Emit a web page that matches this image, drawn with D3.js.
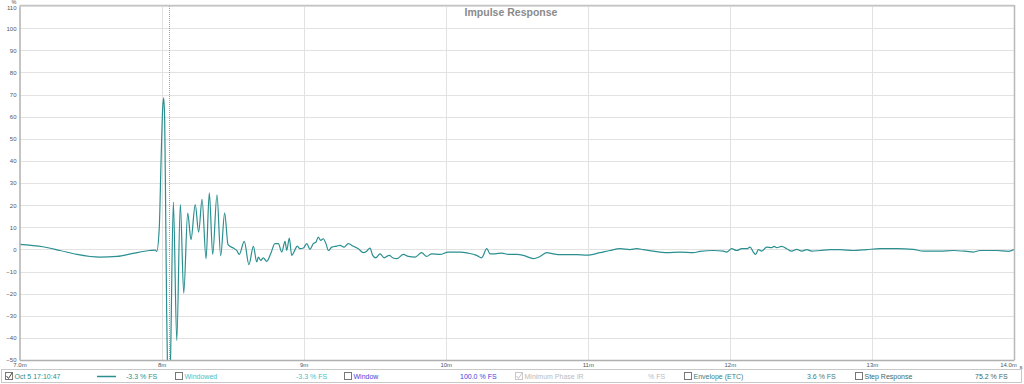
<!DOCTYPE html>
<html>
<head>
<meta charset="utf-8">
<script src="https://cdn.jsdelivr.net/npm/d3@7"></script>
<style>
  body { margin: 0; background: #fff; }
  svg { display: block; font-family: "Liberation Sans", Arial, sans-serif; }
</style>
</head>
<body>
<svg></svg>
<script>
// time in ms, amplitude in % FS
var times = [7.0, 7.165, 7.285, 7.405, 7.567, 7.686, 7.799, 7.919, 7.954, 7.966,
  7.984, 7.996, 8.008, 8.015, 8.022, 8.029, 8.036, 8.042, 8.049, 8.061,
  8.083, 8.107, 8.132, 8.156, 8.184, 8.207, 8.237, 8.261, 8.285, 8.313,
  8.336, 8.360, 8.390, 8.416, 8.444, 8.468, 8.505, 8.529, 8.547, 8.582,
  8.615, 8.646, 8.670, 8.681, 8.698, 8.716, 8.740, 8.768, 8.798, 8.822,
  8.846, 8.869, 8.881, 8.899, 8.916, 8.934, 8.955, 8.974, 8.998, 9.022,
  9.045, 9.068, 9.087, 9.103, 9.120, 9.138, 9.157, 9.174, 9.198, 9.233,
  9.256, 9.284, 9.314, 9.350, 9.385, 9.420, 9.444, 9.467, 9.486, 9.507,
  9.538, 9.566, 9.603, 9.627, 9.655, 9.702, 9.737, 9.784, 9.831, 9.866,
  9.901, 9.960, 10.018, 10.101, 10.159, 10.218, 10.253, 10.289, 10.312, 10.347,
  10.394, 10.441, 10.500, 10.546, 10.617, 10.664, 10.711, 10.757, 10.804, 10.922,
  10.992, 11.086, 11.156, 11.227, 11.297, 11.344, 11.391, 11.461, 11.556, 11.649,
  11.743, 11.790, 11.884, 11.954, 11.978, 12.013, 12.048, 12.083, 12.119, 12.142,
  12.165, 12.182, 12.200, 12.224, 12.259, 12.295, 12.311, 12.330, 12.365, 12.400,
  12.435, 12.471, 12.506, 12.541, 12.576, 12.635, 12.705, 12.775, 12.869, 12.963,
  13.057, 13.174, 13.291, 13.362, 13.479, 13.573, 13.667, 13.714, 13.761, 13.878,
  13.960, 14.0];
var impulse = [2.3, 1.2, -0.5, -2.3, -3.5, -3.2, -1.8, -0.5, -0.3, -0.9,
  10, 39, 64, 68.5, 58, 16, -29, -55, -65, -55,
  21.4, -41.2, 20.4, -19.8, 16.4, 4.4, 20.2, 7.8, 22.6, -4.2,
  25.5, -2.3, 24.7, -2.9, 16.4, 2.1, 0.6, -0.5, -2.3, 3.6,
  -6.9, 1.4, -5.7, -3.5, -5.0, -3.8, -5.4, -2.0, 2.6, 2.6,
  -1.2, 3.6, -0.5, 5.1, -2.7, -0.9, 1.5, 0.3, 0.6, 2.6,
  0.0, 2.6, 3.3, 5.6, 4.1, 4.8, 2.6, -0.5, 1.0, 1.5,
  1.8, 1.0, 2.6, 1.4, 0.3, -1.5, -0.8, 0.6, -2.7, -3.8,
  -2.0, -3.8, -2.7, -3.8, -4.2, -2.3, -3.2, -3.5, -1.5, -3.2,
  -2.0, -2.3, -1.2, -1.2, -1.7, -2.7, -3.8, 0.3, -2.0, -2.0,
  -1.7, -2.3, -2.3, -2.7, -4.2, -3.2, -1.5, -2.0, -2.4, -2.4,
  -2.6, -1.5, -0.5, 0.3, -0.1, 0.3, -0.1, -0.8, -1.5, -1.2,
  -1.5, -0.9, -0.5, -0.8, -1.2, 0.3, -0.5, 0.3, 0.3, 1.0,
  -1.2, -2.3, -0.1, -0.8, 1.0, 0.8, 1.4, 0.8, 1.4, 0.3,
  -0.8, 0.0, -0.8, -0.1, -0.8, -0.5, -0.1, -0.1, -0.5, -0.1,
  0.3, 0.3, 0.0, -0.8, -0.8, -0.5, -0.9, -1.2, -0.5, -0.5,
  -0.9, -0.1];

var xTicks = [7, 8, 9, 10, 11, 12, 13, 14];
var xTickLabels = ["7.0m", "8m", "9m", "10m", "11m", "12m", "13m", "14.0m"];
var yTicks = [-50, -40, -30, -20, -10, 0, 10, 20, 30, 40, 50, 60, 70, 80, 90, 100, 110];
var windowStart = 8.052;

var legendItems = [
  {box: "checked", label: "Oct 5 17:10:47", value: "-3.3 % FS", color: "#2b8f90", line: true},
  {box: "empty", label: "Windowed", value: "-3.3 % FS", color: "#4cc0c0"},
  {box: "empty", label: "Window", value: "100.0 % FS", color: "#4444d8"},
  {box: "disabled", label: "Minimum Phase IR", value: "% FS", color: "#bbbbbb"},
  {box: "empty", label: "Envelope (ETC)", value: "3.6 % FS", color: "#3a7f80"},
  {box: "empty", label: "Step Response", value: "75.2 % FS", color: "#3a6a6a"}
];
var legendBoxX = [5, 175, 344, 515, 684, 855];
var legendValueX = [126, 296, 460, 648, 807, 975];

var width = 1024, height = 384;
var plotL = 19.5, plotR = 1014, plotT = 6, plotB = 360;

var svg = d3.select("svg").attr("width", width).attr("height", height);

var x = d3.scaleLinear().domain([7, 14]).range([plotL, plotR]);
var y = d3.scaleLinear().domain([-50, 110]).range([plotB, plotT]);

// grid
svg.append("g").selectAll("line").data(yTicks.slice(1)).enter().append("line")
  .attr("x1", plotL).attr("x2", plotR)
  .attr("y1", function(d){ return Math.round(y(d)) + 0.5; })
  .attr("y2", function(d){ return Math.round(y(d)) + 0.5; })
  .attr("stroke", "#e2e2e2");
svg.append("g").selectAll("line").data(xTicks.slice(1, -1)).enter().append("line")
  .attr("x1", function(d){ return Math.round(x(d)) + 0.5; })
  .attr("x2", function(d){ return Math.round(x(d)) + 0.5; })
  .attr("y1", plotT).attr("y2", plotB)
  .attr("stroke", "#e2e2e2");

// title
svg.append("text").attr("x", 511).attr("y", 16)
  .attr("text-anchor", "middle").attr("font-size", 10.5).attr("font-weight", "bold")
  .attr("fill", "#8a8a8a").text("Impulse Response");

// window start marker
svg.append("line")
  .attr("x1", Math.round(x(windowStart)) + 0.5).attr("x2", Math.round(x(windowStart)) + 0.5)
  .attr("y1", plotT).attr("y2", plotB)
  .attr("stroke", "#ff5a5a").attr("stroke-opacity", 0.8).attr("stroke-dasharray", "1,1");

// curve
svg.append("clipPath").attr("id", "clip").append("rect")
  .attr("x", plotL).attr("y", plotT).attr("width", plotR - plotL).attr("height", plotB - plotT);

var line = d3.line()
  .x(function(d, i){ return x(times[i]); })
  .y(function(d){ return y(d); })
  .curve(d3.curveMonotoneX);

svg.append("path").datum(impulse)
  .attr("clip-path", "url(#clip)")
  .attr("d", line)
  .attr("fill", "none")
  .attr("stroke", "#2b8f90")
  .attr("stroke-width", 1.2);

// frame
svg.append("line").attr("x1", plotL).attr("x2", plotR).attr("y1", plotT - 0.5).attr("y2", plotT - 0.5)
  .attr("stroke", "#c4c4c4").attr("stroke-width", 1.5);
svg.append("line").attr("x1", plotR + 0.5).attr("x2", plotR + 0.5).attr("y1", plotT - 1).attr("y2", plotB)
  .attr("stroke", "#b8b8b8").attr("stroke-width", 1.5);

// axes
var yAxis = d3.axisLeft(y).tickValues(yTicks).tickSize(0).tickPadding(3);
var gy = svg.append("g").attr("transform", "translate(" + plotL + ",0)").call(yAxis);
gy.select(".domain").attr("stroke", "#b0b0b0").attr("stroke-width", 1.5);
gy.selectAll("text").attr("font-size", 6).attr("fill", "#555")
  .attr("font-family", "\"Liberation Sans\", Arial, sans-serif");
gy.selectAll(".tick").filter(function(d){ return d === 110; }).select("text").attr("dy", "0.55em");
svg.append("text").attr("x", 14).attr("y", 4).attr("font-size", 5.5)
  .attr("text-anchor", "middle").attr("fill", "#555").text("%");

var xAxis = d3.axisBottom(x).tickValues(xTicks).tickSize(0).tickPadding(3)
  .tickFormat(function(d, i){ return xTickLabels[i]; });
var gx = svg.append("g").attr("transform", "translate(0," + plotB + ")").call(xAxis);
gx.select(".domain").attr("stroke", "#b0b0b0").attr("stroke-width", 1.5);
gx.selectAll("text").attr("font-size", 6).attr("fill", "#555")
  .attr("font-family", "\"Liberation Sans\", Arial, sans-serif");
gx.selectAll(".tick").filter(function(d){ return d === 14; }).select("text").attr("dx", -6);
svg.append("text").attr("x", 1019.5).attr("y", 368.5).attr("font-size", 6)
  .attr("fill", "#555").text("s");

// legend
svg.append("rect").attr("x", 1.5).attr("y", 369.5).attr("width", 1020).attr("height", 13)
  .attr("fill", "#fff").attr("stroke", "#c8c8c8");

var leg = svg.append("g").selectAll("g").data(legendItems).enter().append("g");
leg.append("rect")
  .attr("x", function(d, i){ return legendBoxX[i] + 0.5; })
  .attr("y", 372.5).attr("width", 7).attr("height", 7)
  .attr("fill", "#fff")
  .attr("stroke", function(d){ return d.box === "disabled" ? "#c8c8c8" : "#777"; });
leg.filter(function(d){ return d.box !== "empty"; }).append("path")
  .attr("d", function(d){
    var bx = legendBoxX[legendItems.indexOf(d)];
    return "M" + (bx + 1.5) + ",376 L" + (bx + 3.5) + ",378.5 L" + (bx + 7) + ",373";
  })
  .attr("fill", "none")
  .attr("stroke", function(d){ return d.box === "disabled" ? "#c8c8c8" : "#444"; });
leg.append("text")
  .attr("x", function(d, i){ return legendBoxX[i] + 9.5; })
  .attr("y", 379).attr("font-size", 7)
  .attr("fill", function(d){ return d.color; })
  .text(function(d){ return d.label; });
leg.append("text")
  .attr("x", function(d, i){ return legendValueX[i]; })
  .attr("y", 379).attr("font-size", 7)
  .attr("fill", function(d){ return d.color; })
  .text(function(d){ return d.value; });
leg.filter(function(d){ return d.line; }).append("line")
  .attr("x1", 97).attr("x2", 116).attr("y1", 376.5).attr("y2", 376.5)
  .attr("stroke", function(d){ return d.color; }).attr("stroke-width", 1.5);
</script>
</body>
</html>
